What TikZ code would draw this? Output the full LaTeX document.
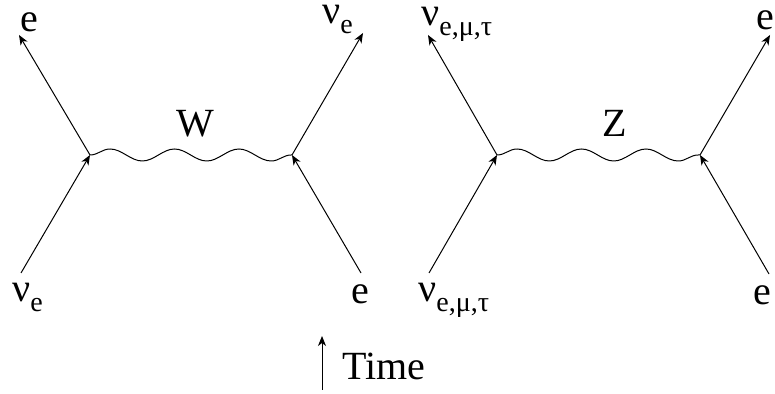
\documentclass[tikz,border=0pt]{standalone}
\usepackage{fontspec}
\setmainfont{Liberation Serif}
\usetikzlibrary{arrows.meta, decorations.pathmorphing}

\newcommand{\lsub}[1]{\raisebox{-0.24em}{\fontsize{14}{16}\selectfont #1}}

\begin{document}
\begin{tikzpicture}[x=0.5pt, y=-0.5pt, font=\fontsize{20}{24}\selectfont,
	fermion/.style={-{Stealth[length=5pt, width=4pt, inset=1.5pt]}, line width=0.5pt},
	boson/.style={decorate, decoration={snake, amplitude=3pt, segment length=32.2pt},
		line width=0.5pt},
	lbl/.style={anchor=base west, inner sep=0pt},
	xlbl/.style={anchor=base, inner sep=0pt}]
	\useasboundingbox (0,0) rectangle (775,394);

	% charged current: W exchange
	\coordinate (wa) at (90,155);
	\coordinate (wb) at (292,155);
	\coordinate (wa-in)  at (21,273);
	\coordinate (wa-out) at (19,35);
	\coordinate (wb-in)  at (361,273);
	\coordinate (wb-out) at (363,33);

	\draw[fermion] (wa-in) -- (wa);
	\draw[fermion] (wa) -- (wa-out);
	\draw[fermion] (wb-in) -- (wb);
	\draw[fermion] (wb) -- (wb-out);
	\draw[boson] (wa) -- (wb);

	\node[lbl] (e1)  at (20,32)   {e};
	\node[lbl] (nu1) at (322,24)  {ν\lsub{e}};
	\node[lbl] (nu2) at (12,302)  {ν\lsub{e}};
	\node[lbl] (e2)  at (351,304) {e};
	\node[xlbl] (w)  at (195,137) {W};

	% neutral current: Z exchange
	\coordinate (za) at (497,155);
	\coordinate (zb) at (700,155);
	\coordinate (za-in)  at (429,273);
	\coordinate (za-out) at (428,35);
	\coordinate (zb-in)  at (769,274);
	\coordinate (zb-out) at (770,35);

	\draw[fermion] (za-in) -- (za);
	\draw[fermion] (za) -- (za-out);
	\draw[fermion] (zb-in) -- (zb);
	\draw[fermion] (zb) -- (zb-out);
	\draw[boson] (za) -- (zb);

	\node[lbl] (nu3) at (421,26)  {ν\lsub{e,μ,τ}};
	\node[lbl] (e3)  at (756,30)  {e};
	\node[lbl] (nu4) at (418,302) {ν\lsub{e,μ,τ}};
	\node[lbl] (e4)  at (753,305) {e};
	\node[xlbl] (z)  at (615,137) {Z};

	% time axis
	\coordinate (t0) at (322,390);
	\coordinate (t1) at (322,336);
	\draw[fermion] (t0) -- (t1);
	\node[lbl] (time) at (342,380) {Time};
\end{tikzpicture}
\end{document}
